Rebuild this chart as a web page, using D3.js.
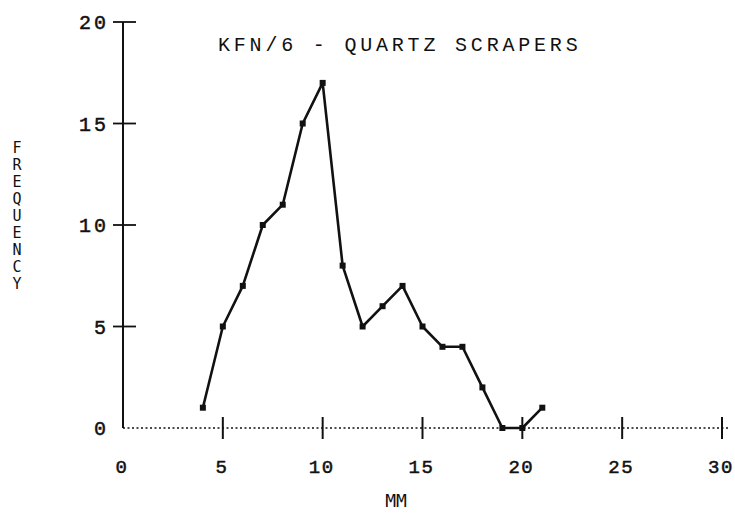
<!DOCTYPE html>
<html><head><meta charset="utf-8">
<script src="https://cdn.jsdelivr.net/npm/d3@7"></script>
<style>body{margin:0;background:#fff}svg{display:block}</style>
</head><body>
<svg id="c" width="735" height="519"></svg>
<script>
const sizes = [4,5,6,7,8,9,10,11,12,13,14,15,16,17,18,19,20,21];
const freq  = [1,5,7,10,11,15,17,8,5,6,7,5,4,4,2,0,0,1];
const xTicks = [0,5,10,15,20,25,30];
const yTicks = [0,5,10,15,20];
const title = "KFN/6 - QUARTZ SCRAPERS";
const yLabel = "FREQUENCY";
const xLabel = "MM";

const svg = d3.select("#c");
const x = d3.scaleLinear().domain([0,30]).range([123,722]);
const y = d3.scaleLinear().domain([0,20]).range([428,22]);
const mono = "'Liberation Mono', 'DejaVu Sans Mono', monospace";
const ink = "#111";

// x axis (dotted)
svg.append("line").attr("x1",x(0)).attr("x2",x(30)+6).attr("y1",y(0)).attr("y2",y(0))
  .attr("stroke",ink).attr("stroke-width",1.6).attr("stroke-dasharray","2,2.5");
svg.selectAll(".xt").data(xTicks.filter(d=>d>0)).join("line")
  .attr("x1",d=>x(d)).attr("x2",d=>x(d)).attr("y1",y(0)-11).attr("y2",y(0)+11)
  .attr("stroke",ink).attr("stroke-width",2);
svg.selectAll(".xl").data(xTicks).join("text")
  .attr("x",d=>x(d)-1).attr("y",y(0)+45).attr("text-anchor","middle")
  .attr("font-family",mono).attr("font-size",19).attr("letter-spacing",1.5)
  .attr("stroke",ink).attr("stroke-width",0.5).attr("fill",ink)
  .text(d=>d);

// y axis (solid)
svg.append("line").attr("x1",x(0)).attr("x2",x(0)).attr("y1",y(0)).attr("y2",y(20))
  .attr("stroke",ink).attr("stroke-width",2);
svg.selectAll(".yt").data(yTicks.filter(d=>d>0)).join("line")
  .attr("x1",x(0)-10).attr("x2",x(0)+13).attr("y1",d=>y(d)).attr("y2",d=>y(d))
  .attr("stroke",ink).attr("stroke-width",1.8);
svg.selectAll(".yl").data(yTicks).join("text")
  .attr("x",109).attr("y",d=>y(d)+7).attr("text-anchor","end")
  .attr("font-family",mono).attr("font-size",20).attr("letter-spacing",3)
  .attr("stroke",ink).attr("stroke-width",0.5).attr("fill",ink)
  .text(d=>d);

// data line
const pts = sizes.map((s,i)=>[s,freq[i]]);
svg.append("path").datum(pts)
  .attr("d",d3.line().x(d=>x(d[0])).y(d=>y(d[1])))
  .attr("fill","none").attr("stroke",ink).attr("stroke-width",2.6).attr("stroke-linejoin","round");
svg.selectAll(".pt").data(pts).join("rect")
  .attr("x",d=>x(d[0])-3).attr("y",d=>y(d[1])-3).attr("width",6).attr("height",6)
  .attr("fill",ink);

// title
svg.append("text").attr("x",218).attr("y",51)
  .attr("font-family",mono).attr("font-size",20).attr("letter-spacing",3.8).attr("fill",ink)
  .text(title);

// y label stacked
svg.selectAll(".yc").data(yLabel.split("")).join("text")
  .attr("x",17).attr("y",(d,i)=>153+i*17).attr("text-anchor","middle")
  .attr("font-family","'DejaVu Sans Mono', monospace").attr("font-size",15).attr("fill",ink)
  .text(d=>d);

// x label
svg.append("text").attr("x",396).attr("y",507).attr("text-anchor","middle")
  .attr("font-family","'DejaVu Sans Mono', monospace").attr("font-size",18).attr("fill",ink)
  .text(xLabel);
</script>
</body></html>
